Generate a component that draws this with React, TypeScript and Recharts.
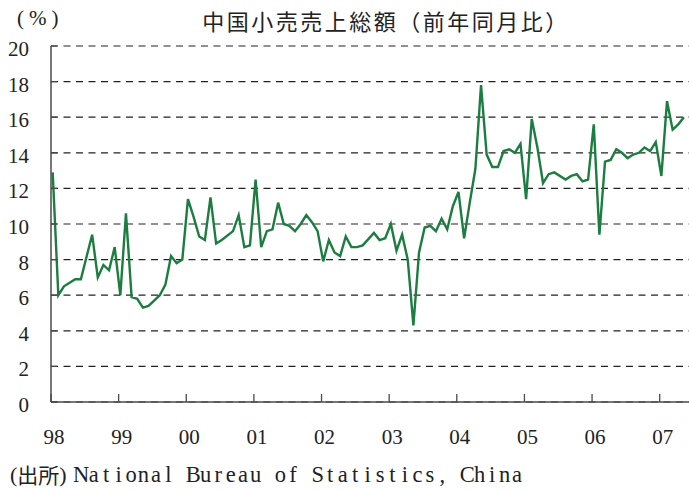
import { LineChart, Line, XAxis, YAxis, CartesianGrid } from "recharts";

// month index counted from Jan 1998 (gaps are where the source line runs straight)
const months = [
  0, 1, 2, 4, 5, 7, 8, 9, 10, 11, 12, 13, 14, 15, 16, 17, 18, 19, 20, 21, 22, 23,
  24, 25, 26, 27, 28, 29, 30, 32, 33, 34, 35, 36, 37, 38, 39, 40, 41, 42, 43, 44,
  45, 46, 47, 48, 49, 50, 51, 52, 53, 54, 55, 57, 58, 59, 60, 61, 62, 63, 64, 65,
  66, 67, 68, 69, 70, 71, 72, 73, 74, 75, 76, 77, 78, 79, 80, 81, 82, 83, 84, 85,
  86, 87, 88, 89, 91, 92, 93, 94, 95, 96, 97, 98, 99, 100, 101, 102, 103, 104,
  105, 106, 107, 108, 109, 110, 111, 112,
];

const growth = [
  12.9, 6.0, 6.5, 6.9, 6.9, 9.4, 7.0, 7.7, 7.4, 8.7, 6.0, 10.6, 5.9, 5.8, 5.3, 5.4,
  5.7, 6.0, 6.6, 8.2, 7.8, 8.0, 11.4, 10.4, 9.3, 9.1, 11.5, 8.9, 9.1, 9.6, 10.5,
  8.7, 8.8, 12.5, 8.7, 9.6, 9.7, 11.2, 10.0, 9.9, 9.6, 10.0, 10.5, 10.1, 9.6, 7.9,
  9.1, 8.4, 8.2, 9.3, 8.7, 8.7, 8.8, 9.5, 9.1, 9.2, 10.0, 8.5, 9.4, 8.0, 4.3, 8.4,
  9.8, 9.9, 9.6, 10.3, 9.7, 11.0, 11.8, 9.2, 11.2, 13.1, 17.8, 13.9, 13.2, 13.2,
  14.1, 14.2, 14.0, 14.5, 11.4, 15.9, 14.3, 12.3, 12.8, 12.9, 12.5, 12.7, 12.8,
  12.4, 12.5, 15.6, 9.4, 13.5, 13.6, 14.2, 14.0, 13.7, 13.9, 14.0, 14.3, 14.1,
  14.6, 12.7, 16.9, 15.3, 15.6, 16.0,
];

const yearLabels = ["98", "99", "00", "01", "02", "03", "04", "05", "06", "07"];
const yTicks = [0, 2, 4, 6, 8, 10, 12, 14, 16, 18, 20];
const sourceText = "National Bureau of Statistics, China";

const data = months.map((m, i) => ({ m, v: growth[i] }));
const xTicks = yearLabels.map((_, i) => i * 12 - 0.3);

const serif = "'Liberation Serif', 'DejaVu Serif', serif";
const cjk = "'Noto Sans CJK JP', sans-serif";
const axisColor = "#4a4a4a";

// fixed-pitch placement so the serif face reads like the original half-width font
const pitch = 12.45;
const sourceX = sourceText.split("").map((_, i) => 75 + pitch / 2 + i * pitch).join(" ");

function XTick(props: any) {
  const { x, y, index } = props;
  return (
    <g>
      <line x1={x} x2={x} y1={y} y2={y - 8} stroke={axisColor} strokeWidth={1.3} />
      <text x={x + 3} y={y + 42} textAnchor="middle" style={{ fontFamily: serif, fontSize: 21 }} fill="#222">
        {yearLabels[index]}
      </text>
    </g>
  );
}

function YTick(props: any) {
  const { x, y, payload } = props;
  return (
    <g>
      <line x1={x} x2={x + 6} y1={y} y2={y} stroke={axisColor} strokeWidth={1.3} />
      <text x={x - 22} y={y + 10} textAnchor="end" style={{ fontFamily: serif, fontSize: 21 }} fill="#222">
        {payload.value}
      </text>
    </g>
  );
}

export default function App() {
  return (
    <div style={{ position: "absolute", left: 0, top: 0, width: 689, height: 490, background: "#fff" }}>
      <LineChart
        width={689}
        height={490}
        data={data}
        margin={{ top: 46, right: 0, bottom: 0, left: 0 }}
      >
        <CartesianGrid
          vertical={false}
          stroke="#222"
          strokeWidth={1.2}
          strokeDasharray="7 5.5"
        />
        <XAxis
          dataKey="m"
          type="number"
          domain={[-0.3, 112.9]}
          ticks={xTicks}
          interval={0}
          height={88}
          tickSize={0}
          tickMargin={0}
          tickLine={false}
          axisLine={{ stroke: axisColor, strokeWidth: 1.5 }}
          tick={<XTick />}
        />
        <YAxis
          domain={[0, 20]}
          ticks={yTicks}
          interval={0}
          width={51}
          tickSize={0}
          tickMargin={0}
          tickLine={false}
          axisLine={{ stroke: axisColor, strokeWidth: 1.5 }}
          tick={<YTick />}
        />
        <Line
          dataKey="v"
          type="linear"
          stroke="#1b7d3f"
          strokeWidth={2.4}
          dot={false}
          isAnimationActive={false}
        />
      </LineChart>
      <svg
        width={689}
        height={490}
        style={{ position: "absolute", left: 0, top: 0, pointerEvents: "none" }}
      >
        <text x={17} y={18} dominantBaseline="central" style={{ fontFamily: serif, fontSize: 21, letterSpacing: 5 }} fill="#222">
          (%)
        </text>
        <text
          x={386}
          y={20}
          textAnchor="middle"
          dominantBaseline="central"
          style={{ fontFamily: cjk, fontSize: 22, letterSpacing: 2.5 }}
          fill="#222"
        >
          中国小売売上総額（前年同月比）
        </text>
        <text x={10} y={474} dominantBaseline="central" fill="#222">
          <tspan style={{ fontFamily: serif, fontSize: 22 }}>(</tspan>
          <tspan style={{ fontFamily: cjk, fontSize: 21 }}>出所</tspan>
          <tspan style={{ fontFamily: serif, fontSize: 22 }}>)</tspan>
        </text>
        <text
          x={sourceX}
          y={474}
          textAnchor="middle"
          dominantBaseline="central"
          style={{ fontFamily: serif, fontSize: 22.5 }}
          fill="#222"
        >
          {sourceText}
        </text>
      </svg>
    </div>
  );
}
